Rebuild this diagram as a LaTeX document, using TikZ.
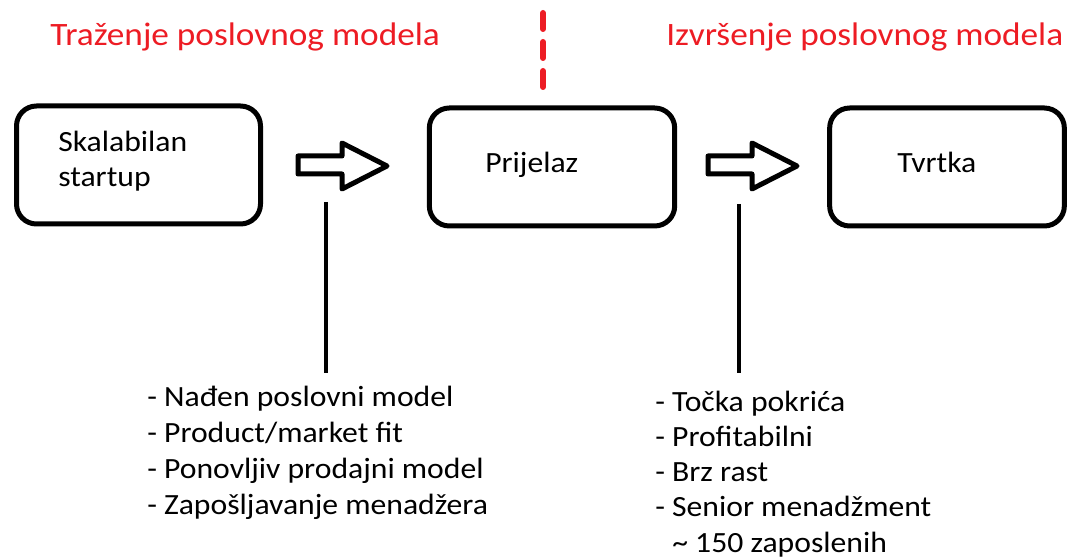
\documentclass[tikz,border=0pt]{standalone}
\usepackage{fontspec}
\setmainfont[FakeStretch=1.08]{Carlito}
\usetikzlibrary{positioning}
\definecolor{paintred}{RGB}{237,28,36}
\tikzset{
x=0.75pt, y=-0.75pt, % one unit is one pixel of the sketch
faza/.style={draw, line width=3.75pt, rounded corners=15pt, minimum height=88.5pt, inner sep=0pt}, % sets the look of each phase box
natpis/.style={anchor=base west, inner sep=0pt, font=\fontsize{22pt}{27pt}\selectfont},
naslov/.style={natpis, text=paintred, font=\fontsize{24.5pt}{29pt}\selectfont},
strelica/.style={draw, line width=3.75pt, line join=round},
crta/.style={line width=3pt},
granica/.style={paintred, line width=4.5pt, line cap=round, dash pattern=on 12pt off 9.75pt},
}

\begin{document}
\begin{tikzpicture}
        \useasboundingbox (0,0) rectangle (1068,559);
        % phase boxes
        \node[faza, minimum width=183pt] (startup) at (138.5,165) {};
        \node[faza, minimum width=184pt] (prijelaz) at (552,167) {};
        \node[faza, minimum width=176pt] (tvrtka) at (947,167) {};
        \node[natpis] (t1a) at (58,152) {Skalabilan};
        \node[natpis] (t1b) at (58,187) {startup};
        \node[natpis] (t2) at (485,173) {Prijelaz};
        \node[natpis] (t3) at (897,173) {Tvrtka};
        % titles and the border between them
        \node[naslov] (trazenje) at (50,46) {Traženje poslovnog modela};
        \node[naslov] (izvrsenje) at (666,46) {Izvršenje poslovnog modela};
        \coordinate (gr1) at (543,13);
        \coordinate (gr2) at (543,87);
        \draw[granica] (gr1) -- (gr2);
        % block arrows
        \foreach \pomak in {0,410}
        \draw[strelica, shift={(\pomak,0)}] (298,156) -- (342,156) -- (342,143) -- (387,166)
                -- (342,189) -- (342,174) -- (298,174) -- cycle;
        % lines down to the lists
        \coordinate (v1a) at (326,202);
        \coordinate (v1b) at (326,373);
        \coordinate (v2a) at (739,204);
        \coordinate (v2b) at (739,373);
        \draw[crta] (v1a) -- (v1b);
        \draw[crta] (v2a) -- (v2b);
        % lists
        \foreach \tekst [count=\i] in {- Nađen poslovni model, - Product/market fit,
                - Ponovljiv prodajni model, - Zapošljavanje menadžera}
        \node[natpis] (a\i) at (147,{407+36*(\i-1)}) {\tekst};
        \foreach \tekst [count=\i] in {- Točka pokrića, - Profitabilni, - Brz rast,
                - Senior menadžment}
        \node[natpis] (b\i) at (655,{412+35*(\i-1)}) {\tekst};
        \node[natpis] (b5) at (672,552) {\textasciitilde\ 150 zaposlenih};
\end{tikzpicture}
\end{document}
